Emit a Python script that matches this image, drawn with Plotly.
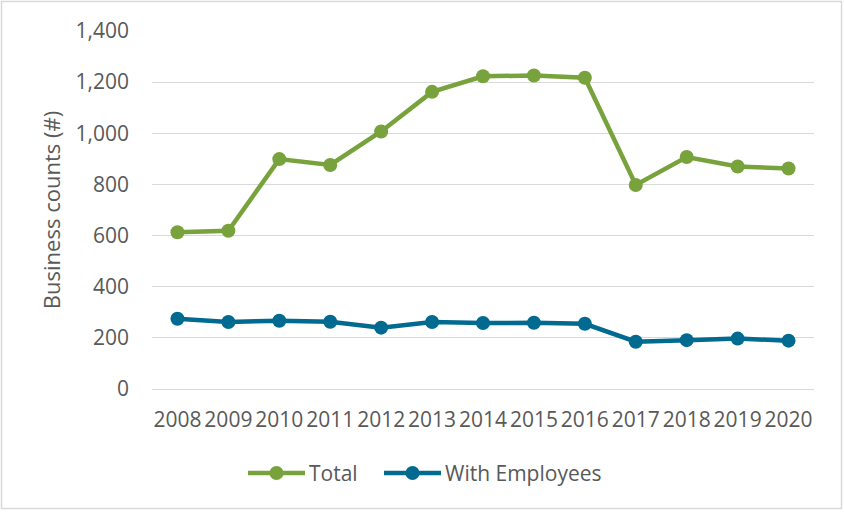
import plotly.graph_objects as go

# Business counts by year
years = ["2008", "2009", "2010", "2011", "2012", "2013", "2014",
         "2015", "2016", "2017", "2018", "2019", "2020"]
total = [613, 619, 899, 876, 1007, 1162, 1223, 1226, 1217, 798, 907, 870, 862]
with_employees = [275, 262, 267, 263, 240, 262, 258, 259, 255, 185, 191, 197, 189]

y_ticks = [0, 200, 400, 600, 800, 1000, 1200, 1400]
y_tick_text = ["0", "200", "400", "600", "800", "1,000", "1,200", "1,400"]

series_names = ["Total", "With Employees"]

GREEN = "#78A23C"
BLUE = "#006A90"
TEXT = "#595959"
GRID = "#D9D9D9"
FONT = "Open Sans"
FS = 21

W, H = 844, 512
ML, MR, MT, MB = 152, 30, 31, 123
PW, PH = W - ML - MR, H - MT - MB


def px_to_paper_x(px):
    return (px - ML) / PW


def px_to_paper_y(py):
    return 1 - (py - MT) / PH


fig = go.Figure()
fig.add_trace(go.Scatter(
    x=years, y=total, name=series_names[0], mode="lines+markers",
    line=dict(color=GREEN, width=4.5),
    marker=dict(color=GREEN, size=14),
))
fig.add_trace(go.Scatter(
    x=years, y=with_employees, name=series_names[1], mode="lines+markers",
    line=dict(color=BLUE, width=4.5),
    marker=dict(color=BLUE, size=14),
))

# light frame around the whole chart
fig.add_shape(
    type="rect", xref="paper", yref="paper",
    x0=px_to_paper_x(1.5), x1=px_to_paper_x(841.5),
    y0=px_to_paper_y(508.5), y1=px_to_paper_y(1.5),
    line=dict(color="#D9D9D9", width=1.5), fillcolor="rgba(0,0,0,0)",
    layer="below",
)

# legend below the plot: line sample with a dot, followed by the label
legend_y = px_to_paper_y(473)
legend_items = [(series_names[0], GREEN, 248, 305), (series_names[1], BLUE, 384, 441)]
for name, color, x0, x1 in legend_items:
    fig.add_shape(
        type="line", xref="paper", yref="paper",
        x0=px_to_paper_x(x0), x1=px_to_paper_x(x1), y0=legend_y, y1=legend_y,
        line=dict(color=color, width=4.5),
    )
    xc = px_to_paper_x((x0 + x1) / 2)
    fig.add_shape(
        type="circle", xref="paper", yref="paper",
        xsizemode="pixel", ysizemode="pixel",
        xanchor=xc, yanchor=legend_y,
        x0=-7, x1=7, y0=-7, y1=7,
        line=dict(width=0), fillcolor=color,
    )
    fig.add_annotation(
        xref="paper", yref="paper", x=px_to_paper_x(x1 + 2), y=legend_y,
        xanchor="left", yanchor="middle", text=name, showarrow=False,
        font=dict(family=FONT, size=FS, color=TEXT),
    )

fig.update_layout(
    width=W, height=H,
    margin=dict(l=ML, r=MR, t=MT, b=MB, autoexpand=False),
    paper_bgcolor="white", plot_bgcolor="white",
    font=dict(family=FONT, color=TEXT, size=FS),
    showlegend=False,
    xaxis=dict(
        type="category", range=[-0.5, 12.5],
        showgrid=False, showline=False, zeroline=False,
        ticks="", ticklabelstandoff=16,
        tickfont=dict(size=FS, color=TEXT),
        fixedrange=True,
    ),
    yaxis=dict(
        range=[0, 1400], tickvals=y_ticks, ticktext=y_tick_text,
        showgrid=True, gridcolor=GRID, gridwidth=1.3,
        zeroline=True, zerolinecolor=GRID, zerolinewidth=1.3,
        showline=False, ticks="", ticklabelstandoff=22,
        tickfont=dict(size=FS, color=TEXT),
        title=dict(text="Business counts (#)", standoff=8,
                   font=dict(size=22, color=TEXT)),
        fixedrange=True,
    ),
)

fig.write_html("out.html")
